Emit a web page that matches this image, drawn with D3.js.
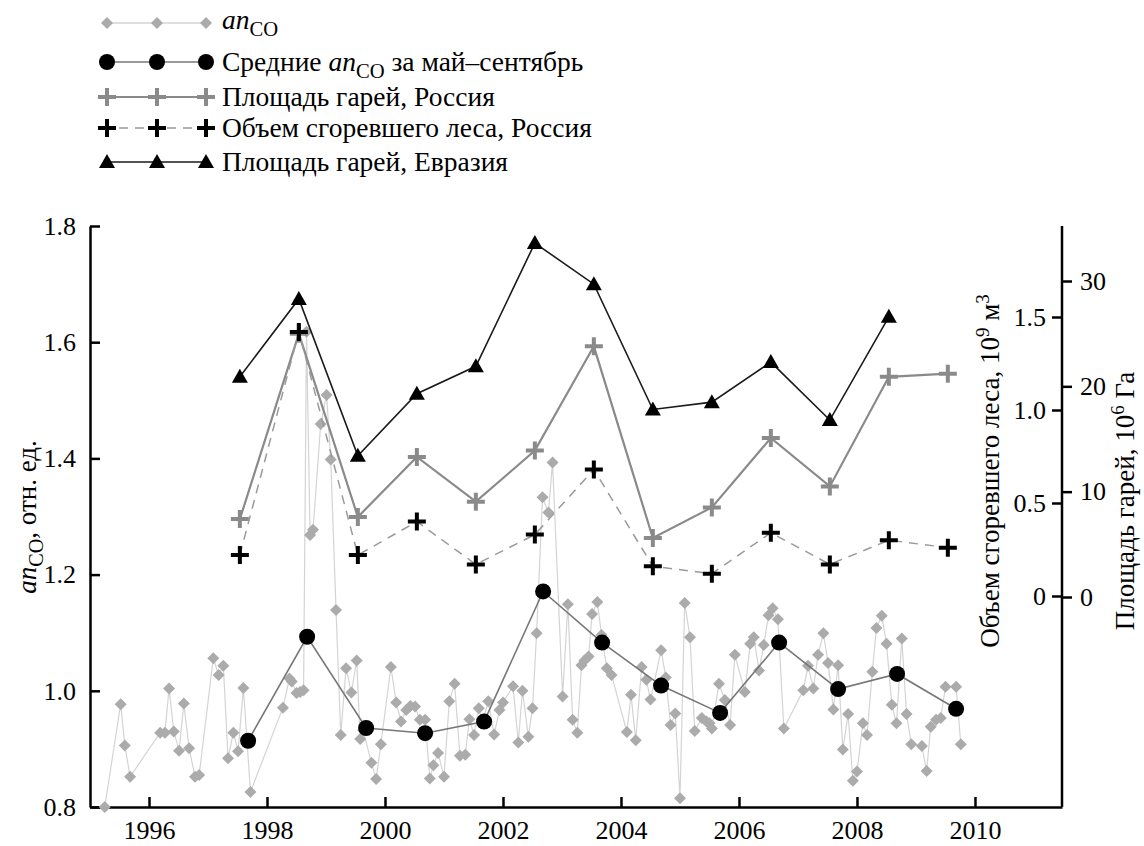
<!DOCTYPE html>
<html><head><meta charset="utf-8">
<script src="https://cdn.jsdelivr.net/npm/d3@7"></script>
<style>
body{margin:0;background:#fff;}
svg{display:block;}
svg text{font-family:"Liberation Serif","Times New Roman",Tinos,"DejaVu Serif",serif !important;}
</style></head>
<body><svg id="c" width="1144" height="846"></svg>
<script>
// ---- data ----
const monthT = [1995.25,1995.52,1995.59,1995.68,
 1996.19,1996.27,1996.34,1996.42,1996.51,1996.59,1996.68,1996.78,1996.85,
 1997.09,1997.18,1997.26,1997.34,1997.43,1997.51,1997.60,1997.72,
 1998.27,1998.38,1998.42,1998.50,1998.56,1998.62,1998.67,1998.73,1998.78,1998.91,
 1999.01,1999.08,1999.17,1999.25,1999.34,1999.43,1999.52,1999.58,1999.63,1999.77,1999.85,1999.93,
 2000.10,2000.19,2000.27,2000.36,2000.43,2000.51,2000.59,2000.68,2000.76,2000.82,2000.90,
 2001.00,2001.09,2001.18,2001.27,2001.36,2001.43,2001.51,2001.59,2001.65,2001.75,2001.85,2001.94,
 2002.00,2002.17,2002.26,2002.33,2002.43,2002.50,2002.57,2002.67,2002.77,2002.84,
 2003.01,2003.10,2003.18,2003.26,2003.33,2003.38,2003.45,2003.51,2003.60,2003.67,2003.76,2003.84,
 2004.10,2004.17,2004.25,2004.35,2004.43,2004.50,2004.68,2004.76,2004.84,2004.92,
 2005.00,2005.08,2005.17,2005.25,2005.37,2005.45,2005.50,2005.54,2005.66,2005.76,2005.85,2005.93,
 2006.10,2006.19,2006.25,2006.34,2006.42,2006.50,2006.57,2006.66,2006.76,
 2007.09,2007.17,2007.26,2007.34,2007.43,2007.51,2007.60,2007.68,2007.76,2007.85,2007.93,
 2008.00,2008.10,2008.17,2008.26,2008.33,2008.42,2008.50,2008.59,2008.67,2008.76,2008.84,2008.92,
 2009.10,2009.18,2009.25,2009.34,2009.42,2009.50,2009.68,2009.76];
const monthV = [0.800,0.977,0.906,0.852,
 0.928,0.928,1.004,0.930,0.897,0.978,0.901,0.852,0.855,
 1.056,1.027,1.043,0.884,0.928,0.896,1.005,0.826,
 0.971,1.021,1.016,0.996,0.998,1.001,1.618,1.268,1.277,1.459,
 1.509,1.398,1.139,0.924,1.039,0.997,1.052,0.917,0.932,0.876,0.848,0.908,
 1.041,0.980,0.947,0.967,0.974,0.973,0.950,0.950,0.849,0.872,0.893,
 0.852,0.982,1.012,0.888,0.890,0.951,0.924,0.970,0.945,0.982,0.925,0.967,
 0.980,1.008,0.911,1.000,0.921,0.970,1.099,1.333,1.307,1.393,
 0.990,1.149,0.950,0.928,1.044,1.052,1.059,1.132,1.153,1.096,1.039,1.027,
 0.929,0.993,0.915,1.041,1.019,0.985,1.070,1.023,0.941,0.961,
 0.815,1.151,1.092,0.931,0.953,0.947,0.944,0.935,1.012,0.984,0.941,1.062,
 0.998,1.081,1.092,1.035,1.079,1.130,1.142,1.123,0.935,
 1.001,1.043,1.004,1.062,1.099,1.048,0.968,1.044,0.899,0.960,0.845,
 0.861,0.944,0.924,1.033,1.108,1.129,1.081,0.976,0.944,1.090,0.960,0.908,
 0.905,0.862,0.938,0.950,0.953,1.007,1.007,0.908];

const years = [1997,1998,1999,2000,2001,2002,2003,2004,2005,2006,2007,2008,2009];
const meanMaySep = [0.914,1.093,0.936,0.927,0.947,1.171,1.083,1.009,0.962,1.083,1.003,1.029,0.969];
const areaRussia = [7.4,25.0,7.6,13.3,9.05,13.9,23.8,5.6,8.5,15.1,10.5,20.9,21.2];
const volumeRussia = [0.22,1.42,0.22,0.40,0.17,0.33,0.68,0.16,0.12,0.34,0.17,0.30,0.26];
const yearsEurasia = [1997,1998,1999,2000,2001,2002,2003,2004,2005,2006,2007,2008];
const areaEurasia = [20.9,28.3,13.4,19.3,21.9,33.6,29.7,17.8,18.5,22.3,16.8,26.6];

const xTicks = [1996,1998,2000,2002,2004,2006,2008,2010];
const yLeftTicks = [0.8,1.0,1.2,1.4,1.6,1.8];
const volTicks = [0,0.5,1.0,1.5];
const areaTicks = [0,10,20,30];
const annualOffset = 0.54, meanOffset = 0.68;

// ---- scales ----
const svg = d3.select("#c");
const L=90, R=1062, B=807, T=226;
const x = d3.scaleLinear().domain([1995, 2011.475]).range([L, R]);
const yL = d3.scaleLinear().domain([0.8, 1.8]).range([B, T]);
const yVol = d3.scaleLinear().domain([0, 1.5]).range([596, 317]);
const yArea = d3.scaleLinear().domain([0, 30]).range([597, 281]);

const FS = 26, FL = 27, FLEG = 27.5;
const SERIF = "'Liberation Serif','Times New Roman',Tinos,'DejaVu Serif',serif";
const gL = svg.append("g").attr("transform",`translate(${L},0)`)
  .call(d3.axisLeft(yL).tickValues(yLeftTicks).tickFormat(d3.format(".1f")).tickSizeInner(-10).tickSizeOuter(0).tickPadding(14));
const gB = svg.append("g").attr("transform",`translate(0,${B})`)
  .call(d3.axisBottom(x).tickValues(xTicks).tickFormat(d3.format("d")).tickSizeInner(-10).tickSizeOuter(0).tickPadding(14));
const gR1 = svg.append("g").attr("transform",`translate(${R},0)`)
  .call(d3.axisLeft(yVol).tickValues(volTicks).tickFormat(d=>d===0?"0":d3.format(".1f")(d)).tickSizeInner(10).tickSizeOuter(0).tickPadding(6));
const gR2 = svg.append("g").attr("transform",`translate(${R},0)`)
  .call(d3.axisRight(yArea).tickValues(areaTicks).tickFormat(d3.format("d")).tickSizeInner(10).tickSizeOuter(0).tickPadding(8));
gR1.select(".domain").remove(); gR2.select(".domain").remove();
svg.append("line").attr("x1",R).attr("x2",R).attr("y1",T).attr("y2",B).attr("stroke","#000").attr("stroke-width",2.5);
[gL,gB,gR1,gR2].forEach(g=>{
  g.attr("font-family",SERIF);
  g.selectAll("text").attr("font-size",FS).style("font-family",SERIF).attr("fill","#000");
  g.selectAll("line").attr("stroke","#000").attr("stroke-width",2.5);
  g.selectAll(".domain").attr("stroke","#000").attr("stroke-width",2.5);
});

function diamond(g,cx,cy){g.append("path").attr("d",`M${cx},${cy-6}L${cx+6},${cy}L${cx},${cy+6}L${cx-6},${cy}Z`).attr("fill","#ababab");}
function circle(g,cx,cy){g.append("circle").attr("cx",cx).attr("cy",cy).attr("r",8).attr("fill","#000");}
function cross(g,cx,cy,col){g.append("path").attr("d",`M${cx-9},${cy}H${cx+9}M${cx},${cy-9}V${cy+9}`).attr("stroke",col).attr("stroke-width",4);}
function tri(g,cx,cy){g.append("path").attr("d",`M${cx},${cy-8}L${cx+8},${cy+6}L${cx-8},${cy+6}Z`).attr("fill","#000");}

const plot = svg.append("g");
const line = d3.line();
const mPts = monthT.map((t,i)=>[x(t), yL(monthV[i])]);
plot.append("path").attr("d",line(mPts)).attr("fill","none").attr("stroke","#d4d4d4").attr("stroke-width",1.2);
mPts.forEach(p=>diamond(plot,p[0],p[1]));
const raPts = years.map((y,i)=>[x(y+annualOffset), yArea(areaRussia[i])]);
plot.append("path").attr("d",line(raPts)).attr("fill","none").attr("stroke","#8a8a8a").attr("stroke-width",2.2);
const vPts = years.map((y,i)=>[x(y+annualOffset), yVol(volumeRussia[i])]);
plot.append("path").attr("d",line(vPts)).attr("fill","none").attr("stroke","#9a9a9a").attr("stroke-width",1.5).attr("stroke-dasharray","9,7");
const ePts = yearsEurasia.map((y,i)=>[x(y+annualOffset), yArea(areaEurasia[i])]);
plot.append("path").attr("d",line(ePts)).attr("fill","none").attr("stroke","#1a1a1a").attr("stroke-width",1.6);
const cPts = years.map((y,i)=>[x(y+meanOffset), yL(meanMaySep[i])]);
plot.append("path").attr("d",line(cPts)).attr("fill","none").attr("stroke","#777").attr("stroke-width",1.6);
raPts.forEach(p=>cross(plot,p[0],p[1],"#8a8a8a"));
vPts.forEach(p=>cross(plot,p[0],p[1],"#000"));
ePts.forEach(p=>tri(plot,p[0],p[1]));
cPts.forEach(p=>circle(plot,p[0],p[1]));

function anCO(t,fs){ t.append("tspan").attr("font-style","italic").text("an");
  t.append("tspan").attr("font-size",fs*0.75).attr("dy",7).text("CO");
  return t; }
const tl = svg.append("text").attr("transform",`translate(36,517) rotate(-90)`).attr("text-anchor","middle").attr("font-size",FL);
anCO(tl,FL); tl.append("tspan").attr("dy",-7).text(", отн. ед.");
const tr1 = svg.append("text").attr("transform",`translate(999,471) rotate(-90)`).attr("text-anchor","middle").attr("font-size",FL);
tr1.append("tspan").text("Объем сгоревшего леса, 10");
tr1.append("tspan").attr("font-size",FL*0.7).attr("dy",-10).text("9");
tr1.append("tspan").attr("dy",10).text(" м");
tr1.append("tspan").attr("font-size",FL*0.7).attr("dy",-10).text("3");
const tr2 = svg.append("text").attr("transform",`translate(1134,501) rotate(-90)`).attr("text-anchor","middle").attr("font-size",FL);
tr2.append("tspan").text("Площадь гарей, 10");
tr2.append("tspan").attr("font-size",FL*0.7).attr("dy",-10).text("6");
tr2.append("tspan").attr("dy",10).text(" Га");

const legendLabels = ["", "Средние ", "Площадь гарей, Россия", "Объем сгоревшего леса, Россия", "Площадь гарей, Евразия"];
const legY = [23,62,97,128,162];
const lx = [107,157,206];
const lg = svg.append("g");
lg.append("line").attr("x1",lx[0]).attr("x2",lx[2]).attr("y1",legY[0]).attr("y2",legY[0]).attr("stroke","#d4d4d4").attr("stroke-width",1.5);
lx.forEach(v=>diamond(lg,v,legY[0]));
lg.append("line").attr("x1",lx[0]).attr("x2",lx[2]).attr("y1",legY[1]).attr("y2",legY[1]).attr("stroke","#777").attr("stroke-width",1.6);
lx.forEach(v=>circle(lg,v,legY[1]));
lg.append("line").attr("x1",lx[0]).attr("x2",lx[2]).attr("y1",legY[2]).attr("y2",legY[2]).attr("stroke","#8a8a8a").attr("stroke-width",2.2);
lx.forEach(v=>cross(lg,v,legY[2],"#8a8a8a"));
lg.append("line").attr("x1",lx[0]).attr("x2",lx[2]).attr("y1",legY[3]).attr("y2",legY[3]).attr("stroke","#9a9a9a").attr("stroke-width",1.5).attr("stroke-dasharray","9,7").attr("stroke-dashoffset",-12);
lx.forEach(v=>cross(lg,v,legY[3],"#000"));
lg.append("line").attr("x1",lx[0]).attr("x2",lx[2]).attr("y1",legY[4]).attr("y2",legY[4]).attr("stroke","#1a1a1a").attr("stroke-width",1.6);
lx.forEach(v=>tri(lg,v,legY[4]));
const TX=222;
const t0 = lg.append("text").attr("x",TX).attr("y",legY[0]+6).attr("font-size",FLEG); anCO(t0,FLEG);
const t1 = lg.append("text").attr("x",TX).attr("y",legY[1]+9).attr("font-size",FLEG);
t1.append("tspan").text(legendLabels[1]); anCO(t1,FLEG); t1.append("tspan").attr("dy",-7).text(" за май–сентябрь");
[2,3,4].forEach(i=>lg.append("text").attr("x",TX).attr("y",legY[i]+9).attr("font-size",FLEG).text(legendLabels[i]));
</script></body></html>
